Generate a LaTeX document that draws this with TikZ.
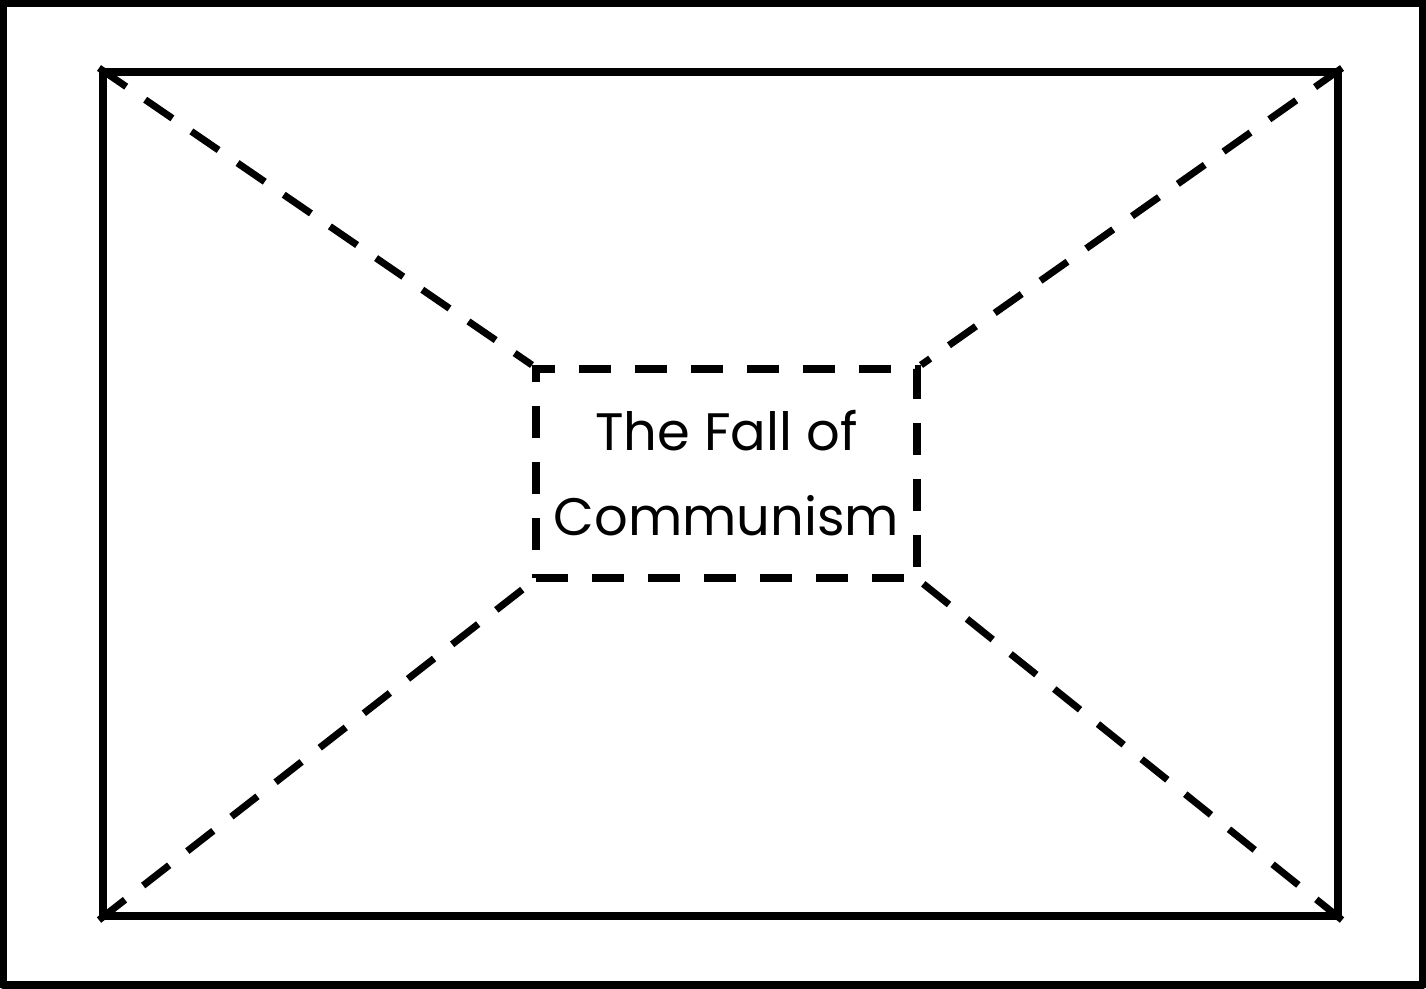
\documentclass[tikz,border=0pt]{standalone}
\usepackage{fontspec}
\setmainfont{Poppins}
\usetikzlibrary{positioning,calc}

\begin{document}
\begin{tikzpicture}[x=0.1mm,y=-0.1mm,
    edge/.style={line width=0.75mm,line join=round},
    frame/.style={draw,line width=0.8mm,line join=round,
      minimum width=123.5mm,minimum height=84.4mm,inner sep=0pt},
    titlebox/.style={draw,line width=0.8mm,dash pattern=on 3.2mm off 2.4mm,
      minimum width=38.1mm,minimum height=20.9mm,inner sep=0pt,
      align=center,font=\fontsize{15}{24.2}\selectfont},
    spoke/.style={line width=0.7mm,dash pattern=on 3.3mm off 2.3mm}]
    \useasboundingbox (0,0) rectangle (1426,988);
    \draw[edge] (3,3) rectangle (1423,985);
    \node[frame] (page) at (720.5,494) {};
    \node[titlebox] (title) at (726.5,473.5) {The Fall of\\Communism};
    \draw[spoke] (page.north west) -- (title.north west);
    \draw[spoke] (page.north east) -- (title.north east);
    \draw[spoke] (page.south west) -- (title.south west);
    \draw[spoke] (page.south east) -- (title.south east);
  \end{tikzpicture}
\end{document}
